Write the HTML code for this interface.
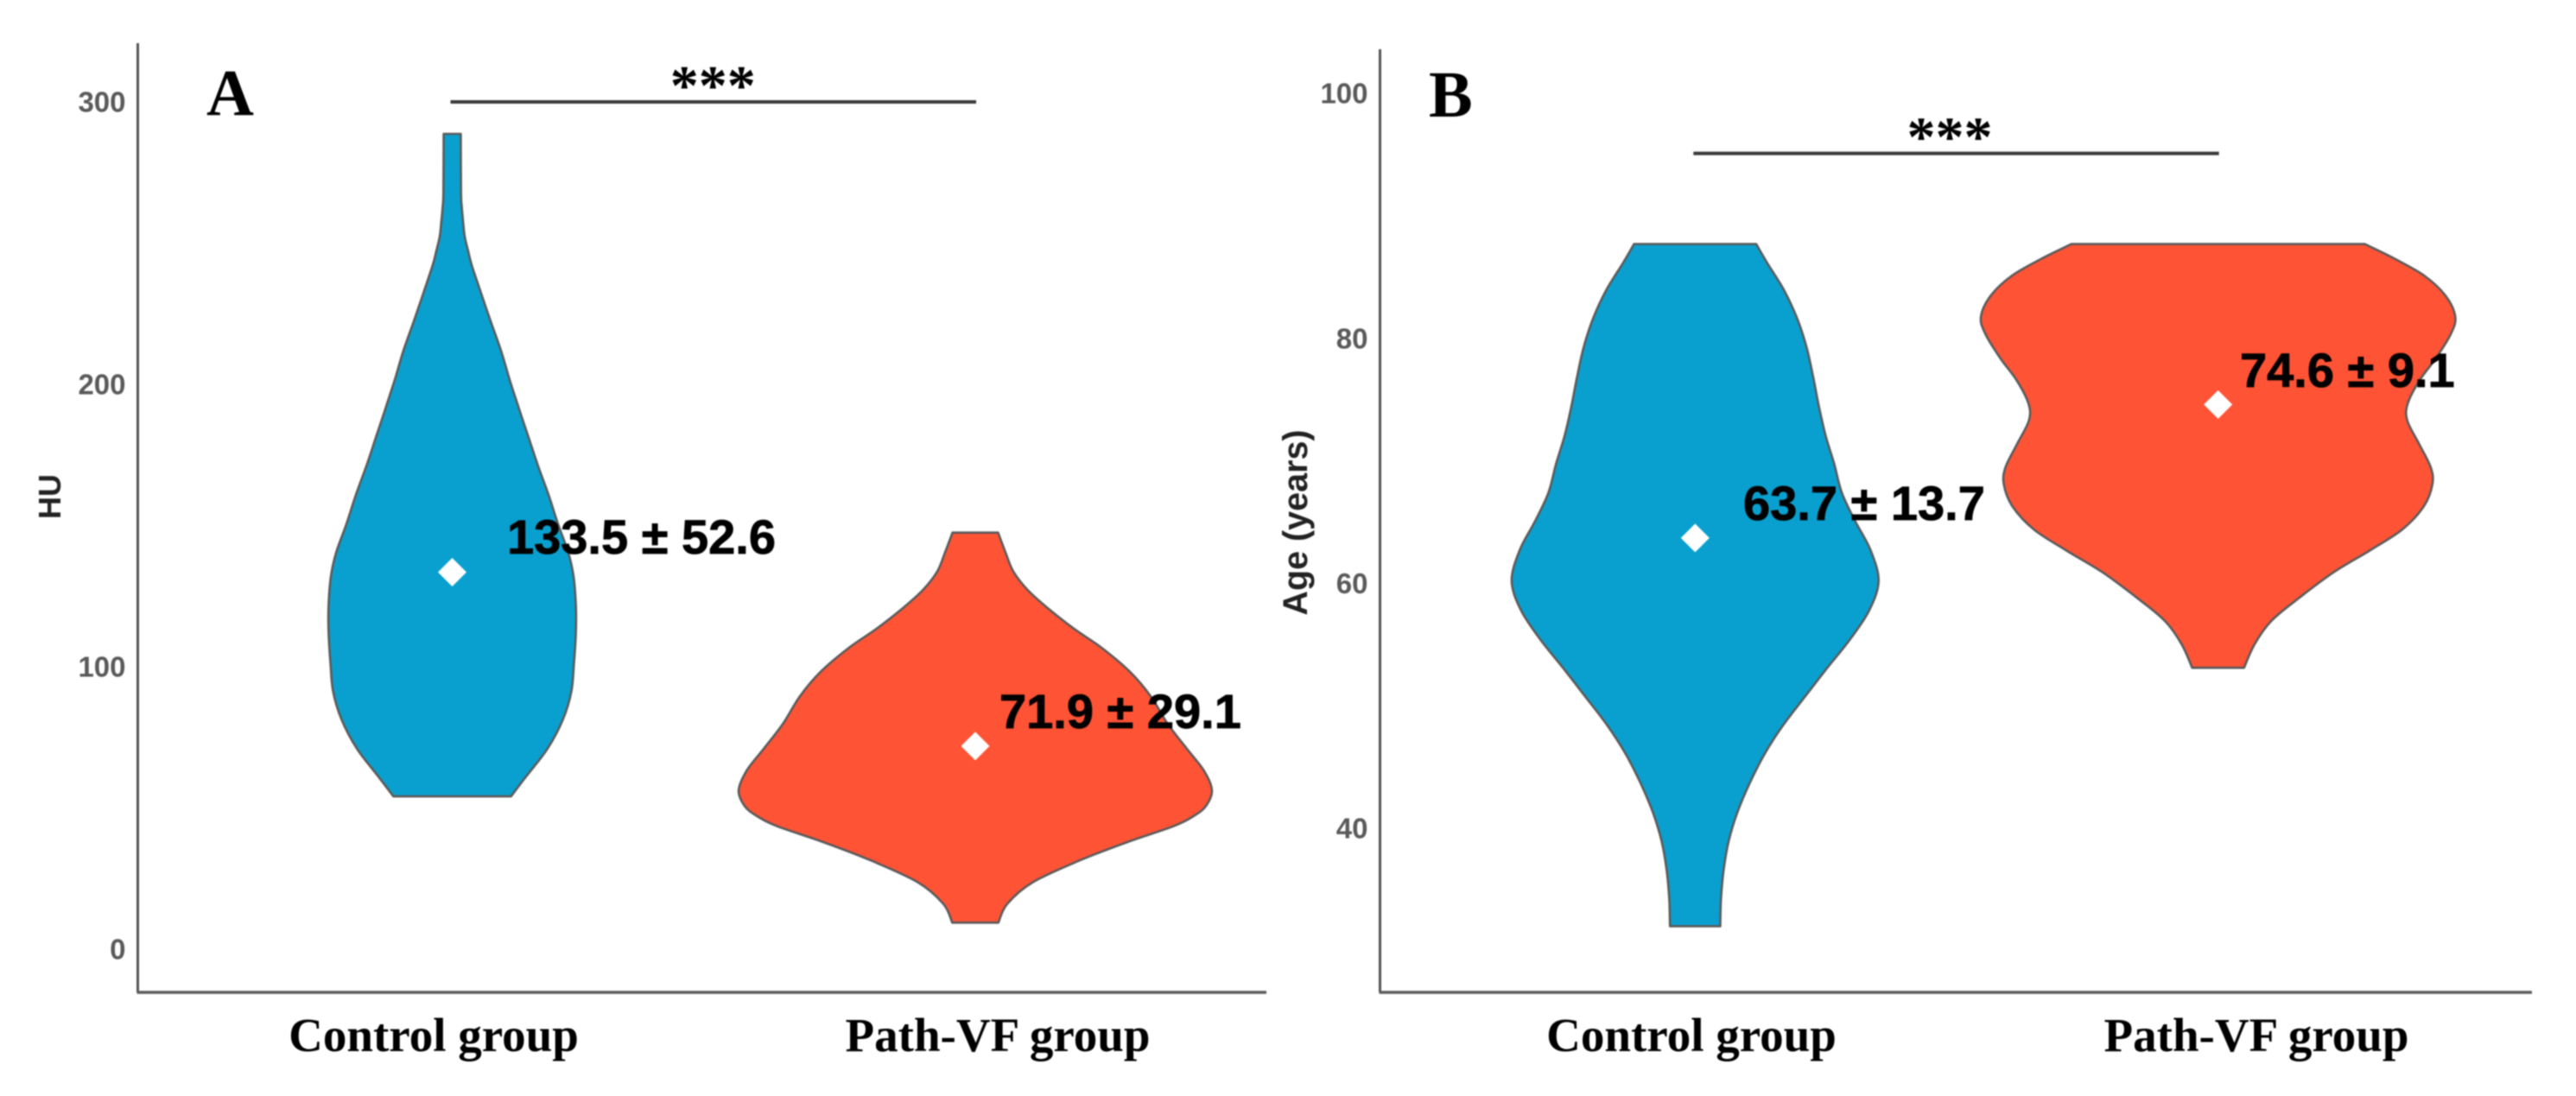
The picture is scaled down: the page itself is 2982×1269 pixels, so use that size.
<!DOCTYPE html>
<html>
<head>
<meta charset="utf-8">
<title>Violin plots of HU and age</title>
<style>
html,body{margin:0;padding:0;background:#fff;width:2982px;height:1269px;overflow:hidden}
svg{display:block;filter:blur(0.8px)}
.sans{font-family:"Liberation Sans",sans-serif;font-weight:700}
.serif{font-family:"Liberation Serif",serif;font-weight:700}
</style>
</head>
<body>
<svg id="figure" width="2982" height="1269" viewBox="0 0 2982 1269" xmlns="http://www.w3.org/2000/svg"></svg>
<script>
// Shared categories
const categories = ['Control group', 'Path-VF group'];

// Panel A (HU)
const huTicks = [0, 100, 200, 300];
const huTickLabels = ['0', '100', '200', '300'];
const huControlValues = [288.7, 267.9, 262.7, 257.6, 252.5, 247.4, 242.3, 232.1, 221.9, 211.7, 201.5, 191.3, 181.1, 170.9, 160.8, 150.6, 140.4, 132.1, 122, 111.9, 101.5, 91.4, 81.3, 70.9, 60.9, 54.1];
const huControlDensity = [3.3, 3.4, 3.7, 4.2, 4.8, 6.1, 7.5, 11.2, 15, 18.9, 22.2, 25.8, 29.5, 33.2, 37.2, 40.8, 44.8, 46.8, 47.7, 47.7, 47, 46, 42.7, 36.7, 28.3, 22.7];
const huPathValues = [147.5, 140.9, 133.7, 127.1, 120.5, 113.4, 106.7, 98.1, 89.4, 79.7, 71, 63.4, 56.3, 50.7, 47.1, 43.5, 37.9, 31.3, 23.7, 16, 9.4];
const huPathDensity = [8.8, 11.5, 14.7, 20.3, 28.3, 38.2, 48.8, 59.8, 67.8, 74.3, 81.6, 88.1, 91.3, 89, 84.2, 76.3, 58.6, 40, 22.2, 12.3, 8.9];
const huMeans = [133.5, 71.9];
const huMeanLabels = ['133.5 ± 52.6', '71.9 ± 29.1'];
const huBracketValue = 300;

// Panel B (Age)
const ageTicks = [40, 60, 80, 100];
const ageTickLabels = ['40', '60', '80', '100'];
const ageControlValues = [87.7, 86.2, 83.9, 81.5, 79.2, 76.8, 74.5, 72.1, 69.8, 67.4, 65.1, 62.7, 60.2, 57.8, 55.4, 53.1, 50.7, 48.4, 46.1, 43.7, 41.3, 39, 36.6, 34.3, 32];
const ageControlDensity = [23.6, 27.7, 34.4, 39.6, 43.1, 45.6, 47.7, 50.3, 53.6, 56.6, 61.7, 67.7, 70.8, 67.2, 59.7, 51, 42.2, 33.9, 26.9, 21.1, 16.3, 13, 11, 10, 9.7];
const agePathValues = [87.7, 86.5, 85.1, 83.5, 81.8, 80.4, 78.4, 76.6, 74.7, 73.3, 71.4, 69.5, 68.1, 66.3, 64.4, 62.7, 60.9, 58.7, 56.9, 55, 53.1];
const agePathDensity = [56.6, 68.2, 79.7, 87.7, 91.5, 89.9, 84.1, 77.8, 73.2, 73, 77.5, 82, 82.7, 79.4, 71.1, 58.7, 44.6, 30.6, 20.4, 14, 10];
const ageMeans = [63.7, 74.6];
const ageMeanLabels = ['63.7 ± 13.7', '74.6 ± 9.1'];
const ageBracketValue = 95.1;

const NS = 'http://www.w3.org/2000/svg';
const svg = document.getElementById('figure');
const BLUE = '#09a0cf';
const ORANGE = '#ff5335';
const OUTLINE = '#5a5a5a';
const DENSITY_PX = 3;

function make(tag, attrs, parent, text) {
  const el = document.createElementNS(NS, tag);
  for (const k in attrs) el.setAttribute(k, attrs[k]);
  if (text !== undefined) el.textContent = text;
  parent.appendChild(el);
  return el;
}

function smooth(pts) {
  let d = '';
  for (let i = 0; i < pts.length - 1; i++) {
    const p0 = pts[Math.max(i - 1, 0)], p1 = pts[i], p2 = pts[i + 1], p3 = pts[Math.min(i + 2, pts.length - 1)];
    const c1x = p1[0] + (p2[0] - p0[0]) / 6, c1y = p1[1] + (p2[1] - p0[1]) / 6;
    const c2x = p2[0] - (p3[0] - p1[0]) / 6, c2y = p2[1] - (p3[1] - p1[1]) / 6;
    d += 'C' + c1x.toFixed(1) + ' ' + c1y.toFixed(1) + ' ' + c2x.toFixed(1) + ' ' + c2y.toFixed(1) + ' ' + p2[0].toFixed(1) + ' ' + p2[1].toFixed(1);
  }
  return d;
}

function violinPath(values, density, cx, y) {
  const right = values.map((v, i) => [cx + density[i] * DENSITY_PX, y(v)]);
  const left = values.map((v, i) => [cx - density[i] * DENSITY_PX, y(v)]).reverse();
  return 'M' + right[0][0].toFixed(1) + ' ' + right[0][1].toFixed(1) + smooth(right) +
    'L' + left[0][0].toFixed(1) + ' ' + left[0][1].toFixed(1) + smooth(left) + 'Z';
}

function drawPanel(p) {
  const y = v => p.y0 - (v - p.v0) * p.pxPerUnit;
  const g = make('g', {}, svg);
  
  

  // violins
  p.series.forEach((s, i) => {
    const path = make('path', { d: violinPath(s.values, s.density, p.centers[i], y), fill: s.color, stroke: OUTLINE, 'stroke-width': 2.6, 'stroke-linejoin': 'round' }, g);
    
    
  });

  // axes
  const yAxis = make('line', { x1: p.axisX, x2: p.axisX, y1: p.axisTop, y2: 1149, stroke: '#555', 'stroke-width': 3 }, g);
  
  
  const xAxis = make('line', { x1: p.axisX - 1, x2: p.axisEnd, y1: 1149, y2: 1149, stroke: '#5c5c5c', 'stroke-width': 3.6 }, g);
  
  

  // tick labels
  p.ticks.forEach((t, i) => {
    const lab = make('text', { class: 'sans', x: p.axisX - 14, y: y(t) + 11.5, 'text-anchor': 'end', 'font-size': 33, fill: '#5a5a5a' }, g, p.tickLabels[i]);
    
    
  });

  // y title
  const title = make('text', { class: 'sans', transform: 'translate(' + p.titleX + ' ' + p.titleY + ') rotate(-90)', 'text-anchor': 'middle', 'font-size': p.titleSize, fill: '#222' }, g, p.title);
  
  

  // category labels
  categories.forEach((c, i) => {
    const lab = make('text', { class: 'serif', x: p.catX[i], y: 1217, 'text-anchor': 'middle', 'font-size': 55, fill: '#000' }, g, c);
    
    
  });

  // mean diamonds
  p.means.forEach((m, i) => {
    const cx = p.centers[i], cy = y(m), r = 16.5;
    const d = make('polygon', { points: [cx, cy - r, cx + r, cy, cx, cy + r, cx - r, cy].join(' '), fill: '#fff' }, g);
    
    
  });

  // mean labels
  p.meanLabels.forEach((t, i) => {
    const lab = make('text', { class: 'sans', x: p.meanLabelPos[i][0], y: p.meanLabelPos[i][1], 'font-size': 56, fill: '#000', stroke: '#000', 'stroke-width': 0.8 }, g, t);
    
    
  });

  // significance bracket
  const by = y(p.bracket);
  const bar = make('line', { x1: p.centers[0] - 2, x2: p.centers[1] + 1, y1: by, y2: by, stroke: '#3a3a3a', 'stroke-width': 4 }, g);
  
  
  const stars = make('text', { class: 'serif', x: (p.centers[0] + p.centers[1]) / 2 + p.starDx, y: by + 3, 'text-anchor': 'middle', 'font-size': 66, fill: '#000' }, g, '***');
  
  

  // panel letter
  const letter = make('text', { class: 'serif', x: p.letterX, y: p.letterY, 'font-size': 76, fill: '#000' }, g, p.letter);
  
  
}

drawPanel({
  id: 'hu', letter: 'A', letterX: 239, letterY: 133,
  y0: 1099, v0: 0, pxPerUnit: 3.27,
  axisX: 159.5, axisTop: 50, axisEnd: 1466,
  centers: [523.5, 1129],
  ticks: huTicks, tickLabels: huTickLabels,
  title: 'HU', titleX: 70, titleY: 575, titleSize: 36,
  catX: [502, 1155],
  series: [
    { key: 'control', color: BLUE, values: huControlValues, density: huControlDensity },
    { key: 'path-vf', color: ORANGE, values: huPathValues, density: huPathDensity }
  ],
  means: huMeans, meanLabels: huMeanLabels,
  meanLabelPos: [[587, 641], [1157, 843]],
  bracket: huBracketValue, starDx: -1
});

drawPanel({
  id: 'age', letter: 'B', letterX: 1654, letterY: 135,
  y0: 959, v0: 40, pxPerUnit: 14.18,
  axisX: 1597.5, axisTop: 57, axisEnd: 2931,
  centers: [1962.3, 2567.7],
  ticks: ageTicks, tickLabels: ageTickLabels,
  title: 'Age (years)', titleX: 1513, titleY: 605, titleSize: 39.5,
  catX: [1958, 2612],
  series: [
    { key: 'control', color: BLUE, values: ageControlValues, density: ageControlDensity },
    { key: 'path-vf', color: ORANGE, values: agePathValues, density: agePathDensity }
  ],
  means: ageMeans, meanLabels: ageMeanLabels,
  meanLabelPos: [[2018, 602], [2593, 448]],
  bracket: ageBracketValue, starDx: -8
});
</script>
</body>
</html>
